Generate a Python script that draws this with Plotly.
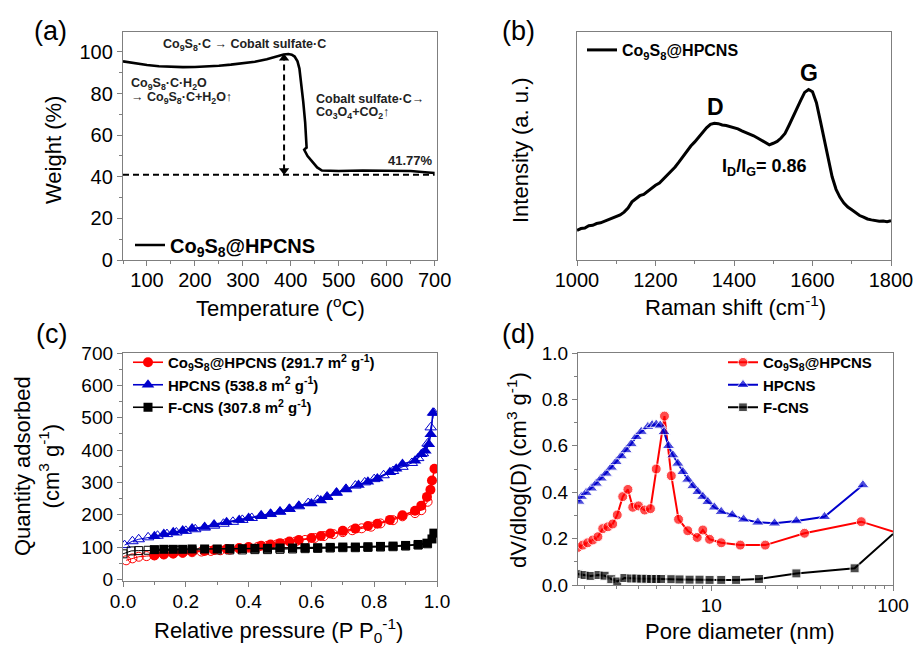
import plotly.graph_objects as go

W, H = 921, 646          # browser window
OFF = 8                  # default page (body) margin in the browser
FW, FH = W - OFF, H - OFF
FONT = "Arial, 'Liberation Sans', sans-serif"
RED = "#FF0000"
BLUE = "#0000CC"
BLACK = "#000000"
FRAME = "#7f7f7f"

# ---------------- (a) TGA ----------------
tga_temp = [50, 75, 100, 125, 150, 175, 200, 225, 250, 275, 300, 325, 350, 370, 385,
            395, 402, 408, 414, 418, 422, 426, 430, 432, 433, 430, 428, 435, 445, 455,
            465, 480, 500, 550, 600, 650, 680, 700]
tga_weight = [95.5, 94.5, 93.7, 93.1, 92.8, 92.7, 92.8, 93.0, 93.4, 93.9, 94.5, 95.3, 96.5,
              97.8, 98.8, 99.0, 98.7, 97.8, 95.5, 92.0, 85.0, 76.0, 66.0, 58.0, 54.0, 53.5,
              53.0, 50.0, 47.0, 44.5, 43.0, 42.8, 42.8, 43.0, 43.0, 42.8, 42.2, 41.8]
residue_level = 41.0
transition_temp = 386
arrow_top = 97.0
arrow_bottom = 43.0
residue_label = "41.77%"

# ---------------- (b) Raman ----------------
raman_shift = list(range(1000, 1801, 10))
raman_intensity = [0.130, 0.138, 0.140, 0.150, 0.152, 0.160, 0.163, 0.170, 0.175, 0.182,
                   0.192, 0.198, 0.210, 0.228, 0.255, 0.270, 0.282, 0.288, 0.302, 0.312,
                   0.328, 0.338, 0.355, 0.372, 0.390, 0.408, 0.430, 0.455, 0.478, 0.500,
                   0.518, 0.540, 0.560, 0.580, 0.595, 0.600, 0.598, 0.592, 0.590, 0.585,
                   0.578, 0.575, 0.566, 0.560, 0.552, 0.545, 0.535, 0.525, 0.518, 0.505,
                   0.512, 0.520, 0.535, 0.555, 0.590, 0.628, 0.668, 0.700, 0.735, 0.748,
                   0.738, 0.690, 0.610, 0.525, 0.440, 0.365, 0.310, 0.275, 0.250, 0.232,
                   0.220, 0.208, 0.195, 0.188, 0.180, 0.176, 0.172, 0.170, 0.171, 0.168,
                   0.172]

# ---------------- (c) N2 isotherms ----------------
hp_ads_p = [0.10, 0.13, 0.16, 0.19, 0.22, 0.26, 0.29, 0.33, 0.37, 0.40, 0.44, 0.47, 0.50,
            0.53, 0.56, 0.60, 0.63, 0.65, 0.68, 0.71, 0.75, 0.78, 0.81, 0.85, 0.87, 0.89,
            0.93, 0.95, 0.963, 0.974, 0.98, 0.987]
hp_ads_q = [133, 140, 146, 151, 157, 162, 170, 177, 184, 190, 198, 203, 210, 218, 228, 235,
            244, 254, 268, 278, 292, 302, 312, 331, 342, 357, 367, 387, 398, 418, 449, 515]
hp_des_p = [0.99, 0.98, 0.97, 0.955, 0.94, 0.92, 0.89, 0.86, 0.83, 0.80, 0.77, 0.74, 0.71,
            0.68, 0.65, 0.62, 0.59, 0.56, 0.53, 0.50, 0.47, 0.44, 0.41, 0.38, 0.35, 0.32,
            0.29, 0.26, 0.23, 0.20, 0.17, 0.14, 0.11, 0.08, 0.05, 0.03, 0.005]
hp_des_q = [515, 470, 420, 390, 375, 360, 348, 335, 322, 310, 300, 290, 280, 268, 256, 246,
            236, 226, 218, 209, 202, 196, 190, 184, 178, 172, 166, 160, 155, 150, 145, 140,
            135, 130, 124, 118, 106]

co_ads_p = [0.10, 0.13, 0.16, 0.19, 0.22, 0.26, 0.29, 0.33, 0.37, 0.40, 0.44, 0.47, 0.50,
            0.53, 0.56, 0.60, 0.63, 0.66, 0.70, 0.74, 0.78, 0.81, 0.85, 0.89, 0.93, 0.95,
            0.968, 0.979, 0.984, 0.992]
co_ads_q = [74, 78, 80, 83, 86, 88, 91, 94, 97, 100, 104, 108, 112, 117, 122, 128, 134, 142,
            150, 157, 165, 172, 184, 198, 212, 228, 255, 277, 306, 342]
co_des_p = [0.97, 0.95, 0.93, 0.89, 0.86, 0.82, 0.79, 0.76, 0.73, 0.70, 0.67, 0.64, 0.61,
            0.58, 0.55, 0.52, 0.49, 0.46, 0.43, 0.40, 0.37, 0.34, 0.31, 0.28, 0.25, 0.22,
            0.19, 0.16, 0.13, 0.10, 0.075, 0.05, 0.03, 0.01]
co_des_q = [240, 214, 205, 195, 183, 173, 163, 158, 152, 146, 140, 134, 128, 122, 117, 112,
            108, 104, 101, 98, 95, 92, 90, 88, 86, 84, 82, 80, 77, 75, 72, 70, 65, 59]

fc_ads_p = [0.10, 0.13, 0.16, 0.19, 0.22, 0.26, 0.30, 0.34, 0.38, 0.42, 0.46, 0.50, 0.54,
            0.58, 0.62, 0.66, 0.70, 0.74, 0.78, 0.82, 0.86, 0.90, 0.94, 0.968, 0.984, 0.99]
fc_ads_q = [92, 93, 93, 93, 94, 94, 94, 95, 95, 96, 96, 97, 97, 98, 98, 99, 100, 100, 101,
            102, 103, 105, 108, 112, 125, 143]
fc_des_p = [0.97, 0.94, 0.90, 0.86, 0.82, 0.78, 0.74, 0.70, 0.66, 0.62, 0.58, 0.54, 0.50,
            0.46, 0.42, 0.38, 0.34, 0.30, 0.26, 0.22, 0.18, 0.14, 0.10, 0.08, 0.05, 0.026, 0.0]
fc_des_q = [110, 106, 103, 101, 100, 99, 98, 98, 97, 96, 95, 94, 93, 92, 92, 91, 91, 91, 91,
            90, 90, 90, 90, 90, 89, 88, 79]

# ---------------- (d) pore size distribution ----------------
co_pore_d = [1.845, 1.965, 2.09, 2.23, 2.38, 2.53, 2.70, 2.87, 3.04, 3.26, 3.48, 3.70, 3.98,
             4.30, 4.63, 4.98, 5.53, 6.03, 6.61, 7.43, 8.37, 8.99, 9.79, 11.35, 14.44, 19.83,
             32.6, 66.9, 100]
co_pore_v = [0.162, 0.172, 0.182, 0.194, 0.208, 0.243, 0.251, 0.263, 0.302, 0.381, 0.412,
             0.335, 0.341, 0.323, 0.329, 0.500, 0.728, 0.471, 0.283, 0.234, 0.205, 0.237,
             0.197, 0.182, 0.172, 0.172, 0.223, 0.273, 0.230]
hp_pore_d = [1.87, 1.93, 2.05, 2.19, 2.33, 2.48, 2.64, 2.82, 3.00, 3.20, 3.40, 3.63, 3.87,
             4.12, 4.48, 4.73, 4.98, 5.24, 5.50, 5.82, 6.15, 6.55, 6.98, 7.43, 7.92, 8.44,
             8.99, 9.58, 10.4, 11.35, 13.05, 15.06, 18.05, 22.3, 29.4, 42.0, 68.3]
hp_pore_v = [0.360, 0.381, 0.398, 0.417, 0.438, 0.460, 0.481, 0.507, 0.531, 0.556, 0.582,
             0.608, 0.639, 0.661, 0.682, 0.690, 0.692, 0.688, 0.660, 0.600, 0.560, 0.524,
             0.488, 0.455, 0.427, 0.402, 0.381, 0.359, 0.335, 0.316, 0.302, 0.283, 0.270,
             0.266, 0.276, 0.294, 0.431]
fc_pore_d = [1.845, 2.01, 2.17, 2.40, 2.59, 2.82, 3.04, 3.33, 3.63, 3.87, 4.12, 4.39, 4.67,
             4.98, 5.30, 6.03, 6.69, 7.60, 8.62, 9.79, 11.35, 13.7, 18.3, 29.4, 61.5, 100]
fc_pore_v = [0.047, 0.043, 0.039, 0.043, 0.040, 0.025, 0.015, 0.030, 0.028, 0.028, 0.027,
             0.027, 0.026, 0.026, 0.026, 0.025, 0.024, 0.023, 0.023, 0.022, 0.022, 0.022,
             0.026, 0.050, 0.072, 0.220]

# names
CO = "Co<sub>9</sub>S<sub>8</sub>@HPCNS"
name_c = [CO + " (291.7 m<sup>2</sup> g<sup>-1</sup>)",
          "HPCNS (538.8 m<sup>2</sup> g<sup>-1</sup>)",
          "F-CNS (307.8 m<sup>2</sup> g<sup>-1</sup>)"]
name_d = [CO, "HPCNS", "F-CNS"]


def px_x(p):
    return (p - OFF) / FW


def px_y(p):
    return 1 - (p - OFF) / FH


fig = go.Figure()

# (a)
fig.add_trace(go.Scatter(x=tga_temp, y=tga_weight, mode="lines", xaxis="x", yaxis="y",
                         line=dict(color=BLACK, width=2.6), name="<b>" + CO + "</b>",
                         legend="legend"))
fig.add_trace(go.Scatter(x=[tga_temp[0], tga_temp[-1]], y=[residue_level, residue_level],
                         mode="lines", xaxis="x", yaxis="y", showlegend=False,
                         line=dict(color=BLACK, width=2, dash="6px,4px")))
fig.add_trace(go.Scatter(x=[transition_temp, transition_temp], y=[arrow_bottom, arrow_top],
                         mode="lines+markers", xaxis="x", yaxis="y", showlegend=False,
                         line=dict(color=BLACK, width=2, dash="6px,4px"),
                         marker=dict(symbol=["triangle-down", "triangle-up"], size=9,
                                     color=BLACK)))

# (b)
fig.add_trace(go.Scatter(x=raman_shift, y=raman_intensity, mode="lines", xaxis="x2",
                         yaxis="y2", line=dict(color=BLACK, width=3),
                         name="<b>" + CO + "</b>", legend="legend2"))

# (c)
series_c = [
    (co_ads_p, co_ads_q, co_des_p, co_des_q, RED, "circle", 10),
    (hp_ads_p, hp_ads_q, hp_des_p, hp_des_q, BLUE, "triangle-up", 11),
    (fc_ads_p, fc_ads_q, fc_des_p, fc_des_q, BLACK, "square", 9),
]
for (ap, aq, dp, dq, col, sym, sz), nm in zip(series_c, name_c):
    fig.add_trace(go.Scatter(x=dp, y=dq, mode="lines+markers", xaxis="x3", yaxis="y3",
                             showlegend=False, line=dict(color=col, width=1),
                             marker=dict(symbol=sym + "-open", size=sz - 1, color=col,
                                         line=dict(width=1, color=col))))
for (ap, aq, dp, dq, col, sym, sz), nm in zip(series_c, name_c):
    fig.add_trace(go.Scatter(x=ap, y=aq, mode="lines+markers", xaxis="x3", yaxis="y3",
                             name="<b>" + nm + "</b>", legend="legend3",
                             line=dict(color=col, width=1.6),
                             marker=dict(symbol=sym, size=sz, color=col)))

# (d)
series_d = [
    (co_pore_d, co_pore_v, RED, "circle", 10),
    (hp_pore_d, hp_pore_v, BLUE, "triangle-up", 11),
    (fc_pore_d, fc_pore_v, BLACK, "square", 9),
]
for (dd, vv, col, sym, sz), nm in zip(series_d, name_d):
    sizes = [sz if d < 100 else 0 for d in dd]
    fig.add_trace(go.Scatter(x=dd, y=vv, mode="lines+markers", xaxis="x4", yaxis="y4",
                             name="<b>" + nm + "</b>", legend="legend4",
                             line=dict(color=col, width=2),
                             marker=dict(symbol=sym, size=sizes, color=col)))


def axis(domain, anchor, tickfont=20, **kw):
    d = dict(domain=domain, anchor=anchor, showline=True, mirror=True, linecolor=FRAME,
             linewidth=1.3, showgrid=False, zeroline=False, ticks="outside", ticklen=5,
             tickcolor=FRAME, tickwidth=1.2, automargin=False,
             tickfont=dict(family=FONT, size=tickfont, color=BLACK),
             minor=dict(ticks="outside", ticklen=3, tickcolor=FRAME, showgrid=False))
    d.update(kw)
    return d


xa = [px_x(123), px_x(437)]
xb = [px_x(577), px_x(891)]
xd = [px_x(578), px_x(893)]
ya = [px_y(260), px_y(32)]
yc = [px_y(581), px_y(353)]
ydd = [px_y(585), px_y(353)]

fig.update_layout(
    width=FW, height=FH, margin=dict(l=0, r=0, t=0, b=0, pad=0, autoexpand=False),
    paper_bgcolor="white", plot_bgcolor="white",
    font=dict(family=FONT, color=BLACK),
    xaxis=axis(xa, "y", range=[50, 705], tick0=100, dtick=100, ticklabelstandoff=-3,
               minor=dict(ticks="outside", ticklen=3, tickcolor=FRAME, dtick=50, tick0=50)),
    yaxis=axis(ya, "x", range=[0, 109.6], dtick=20,
               minor=dict(ticks="outside", ticklen=3, tickcolor=FRAME, dtick=10)),
    xaxis2=axis(xb, "y2", range=[1000, 1800], dtick=200, ticklabelstandoff=-3,
                minor=dict(ticks="outside", ticklen=3, tickcolor=FRAME, dtick=100)),
    yaxis2=axis(ya, "x2", range=[0, 1], showticklabels=False, ticks="",
                minor=dict(ticks="")),
    xaxis3=axis(xa, "y3", tickfont=19, range=[0, 1.0], dtick=0.2, tickformat=".1f",
                ticklabelstandoff=-2,
                minor=dict(ticks="outside", ticklen=3, tickcolor=FRAME, dtick=0.1)),
    yaxis3=axis(yc, "x3", tickfont=19, range=[-5, 700], tick0=0, dtick=100,
                minor=dict(ticks="outside", ticklen=3, tickcolor=FRAME, dtick=50, tick0=0)),
    xaxis4=axis(xd, "y4", tickfont=19, type="log", range=[0.267, 2.0], dtick=1,
                ticklabelstandoff=-2),
    yaxis4=axis(ydd, "x4", tickfont=19, range=[0, 1.0], dtick=0.2, tickformat=".1f",
                minor=dict(ticks="outside", ticklen=3, tickcolor=FRAME, dtick=0.1)),
    legend=dict(x=px_x(130), y=px_y(245), xanchor="left", yanchor="middle",
                bgcolor="rgba(0,0,0,0)", font=dict(size=20, family=FONT, color=BLACK)),
    legend2=dict(x=px_x(582), y=px_y(50), xanchor="left", yanchor="middle",
                 bgcolor="rgba(0,0,0,0)", font=dict(size=16, family=FONT, color=BLACK)),
    legend3=dict(x=px_x(128), y=px_y(385), xanchor="left", yanchor="middle",
                 bgcolor="rgba(0,0,0,0)", font=dict(size=15, family=FONT, color=BLACK)),
    legend4=dict(x=px_x(723), y=px_y(385), xanchor="left", yanchor="middle",
                 bgcolor="rgba(0,0,0,0)", font=dict(size=15, family=FONT, color=BLACK)),
)

ann = []


def txt(x, y, text, size, xref="paper", yref="paper", angle=0, xanchor="center",
        bold=False, color=BLACK):
    ann.append(dict(x=x, y=y, xref=xref, yref=yref, text=("<b>%s</b>" % text) if bold else text,
                    showarrow=False, textangle=angle, xanchor=xanchor, yanchor="middle",
                    font=dict(family=FONT, size=size, color=color)))


# panel labels
txt(px_x(50), px_y(31), "(a)", 27)
txt(px_x(518), px_y(31), "(b)", 27)
txt(px_x(51), px_y(334), "(c)", 27)
txt(px_x(518), px_y(334), "(d)", 27)

# axis titles
txt(px_x(54), px_y(150), "Weight (%)", 22, angle=-90)
txt(px_x(280), px_y(307), "Temperature (<sup>o</sup>C)", 22)
txt(px_x(521), px_y(150), "Intensity (a. u.)", 22, angle=-90)
txt(px_x(735), px_y(306), "Raman shift (cm<sup>-1</sup>)", 22)
txt(px_x(37), px_y(466), "Quantity adsorbed<br>(cm<sup>3</sup> g<sup>-1</sup>)", 22, angle=-90)
txt(px_x(278), px_y(630), "Relative pressure (P P<sub>0</sub><sup>-1</sup>)", 22)
txt(px_x(517), px_y(470), "dV/dlog(D) (cm<sup>3</sup> g<sup>-1</sup>)", 22, angle=-90)
txt(px_x(740), px_y(631), "Pore diameter (nm)", 22)

# (a) reaction notes
ANN = "#222222"
txt(303, 103.5, "Co<sub>9</sub>S<sub>8</sub>·C → Cobalt sulfate·C", 12.5, "x", "y", bold=True, color=ANN)
txt(62, 84.5, "Co<sub>9</sub>S<sub>8</sub>·C·H<sub>2</sub>O", 12.5, "x", "y", xanchor="left", bold=True, color=ANN)
txt(62, 78.0, "→ Co<sub>9</sub>S<sub>8</sub>·C+H<sub>2</sub>O↑", 12.5, "x", "y", xanchor="left", bold=True, color=ANN)
txt(449, 77.5, "Cobalt sulfate·C→", 12.5, "x", "y", xanchor="left", bold=True, color=ANN)
txt(449, 70.5, "Co<sub>3</sub>O<sub>4</sub>+CO<sub>2</sub>↑", 12.5, "x", "y", xanchor="left", bold=True, color=ANN)
ann.append(dict(x=700, y=47.8, xref="x", yref="y", text="<b>%s</b>" % residue_label,
                showarrow=False, xanchor="right", yanchor="middle",
                font=dict(family=FONT, size=13, color=ANN)))

# (b) labels
txt(1352, 0.673, "D", 23, "x2", "y2", bold=True)
txt(1591, 0.818, "G", 23, "x2", "y2", bold=True)
txt(1476, 0.404, "I<sub>D</sub>/I<sub>G</sub>= 0.86", 18, "x2", "y2", bold=True)

fig.update_layout(annotations=ann)
fig.write_html("out.html")
